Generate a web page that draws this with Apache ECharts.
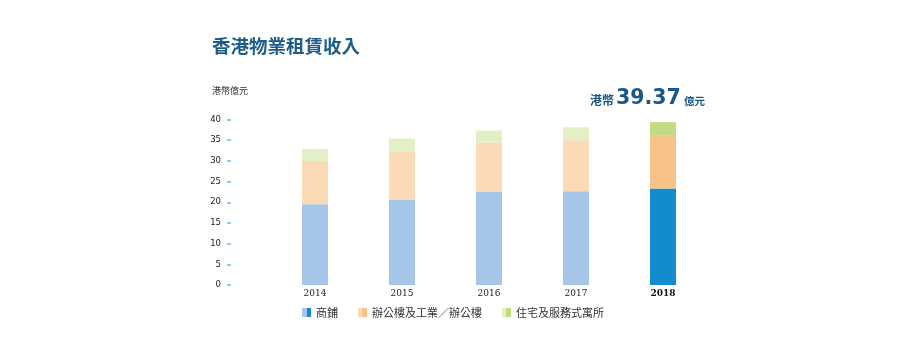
<!DOCTYPE html>
<html>
<head>
<meta charset="utf-8">
<script src="https://cdn.jsdelivr.net/npm/echarts@6/dist/echarts.min.js"></script>
<style>
  html, body { margin: 0; padding: 0; background: #fff; }
  #chart { width: 912px; height: 353px; }
</style>
</head>
<body>
<div id="chart"></div>
<script>
// 年份
const years = ['2014', '2015', '2016', '2017', '2018'];
// 各類物業租賃收入（港幣億元）
const shops = [19.5, 20.65, 22.5, 22.65, 23.3];
const offices = [10.45, 11.65, 11.95, 12.35, 12.75];
const residential = [2.9, 3.1, 2.9, 3.1, 3.32];
const seriesNames = ['商鋪', '辦公樓及工業／辦公樓', '住宅及服務式寓所'];
const yTicks = [0, 5, 10, 15, 20, 25, 30, 35, 40];
const totalText = '39.37';

const fontCJK = '"Noto Sans CJK TC", "Noto Sans", sans-serif';
const lightColors = ['#a5c6e9', '#fbdbb6', '#e2efc7'];
const darkColors = ['#138bce', '#f8c389', '#c2dc85'];
const labelBlue = '#1a5787';

// 最後一年用深色
const buildData = (arr, idx) => arr.map((v, i) => {
    if (i === arr.length - 1) {
        return { value: v, itemStyle: { color: darkColors[idx] } };
    }
    return v;
});

// 圖例：左淺右深
const legendIcon = (idx) => ({
    type: 'linear', x: 0, y: 0, x2: 1, y2: 0,
    colorStops: [
        { offset: 0, color: lightColors[idx] },
        { offset: 0.5, color: lightColors[idx] },
        { offset: 0.5, color: darkColors[idx] },
        { offset: 1, color: darkColors[idx] }
    ]
});

const myChart = echarts.init(document.getElementById('chart'));
myChart.setOption({
    animation: false,
    title: {
        text: '香港物業租賃收入',
        left: 207,
        top: 32,
        textStyle: {
            fontFamily: fontCJK,
            fontSize: 18.5,
            fontWeight: 'bold',
            color: '#1c5d8c'
        }
    },
    graphic: [
        {
            type: 'text',
            left: 212,
            top: 86,
            style: { text: '港幣億元', font: '9px ' + fontCJK, fill: '#333' }
        },
        // 總額標註
        {
            type: 'text',
            style: { x: 590, y: 106, text: '港幣', textVerticalAlign: 'bottom', font: 'bold 12px ' + fontCJK, fill: labelBlue }
        },
        {
            type: 'text',
            style: { x: 616, y: 109, text: totalText, textVerticalAlign: 'bottom', font: 'bold 20.5px "DejaVu Sans"', fill: labelBlue }
        },
        {
            type: 'text',
            style: { x: 684, y: 106, text: '億元', textVerticalAlign: 'bottom', font: 'bold 10.5px ' + fontCJK, fill: labelBlue }
        }
    ],
    legend: {
        left: 297,
        top: 302,
        itemWidth: 9,
        itemHeight: 9,
        itemGap: 20,
        icon: 'rect',
        textStyle: { fontFamily: fontCJK, fontSize: 11, color: '#333' },
        data: seriesNames.map((name, idx) => ({ name, itemStyle: { color: legendIcon(idx) } }))
    },
    grid: {
        left: 271.5,
        right: 205.5,
        top: 119.5,
        bottom: 68,
        containLabel: false
    },
    xAxis: {
        type: 'category',
        data: years,
        axisLine: { show: false },
        axisTick: { show: false },
        axisLabel: {
            margin: 4,
            fontFamily: 'DejaVu Serif',
            fontSize: 9,
            color: '#222',
            formatter: (v, i) => (i === years.length - 1 ? '{b|' + v + '}' : v),
            rich: { b: { fontFamily: 'DejaVu Serif', fontSize: 9, fontWeight: 'bold', color: '#111' } }
        }
    },
    yAxis: {
        type: 'value',
        min: yTicks[0],
        max: yTicks[yTicks.length - 1],
        interval: 5,
        offset: 40.5,
        splitLine: { show: false },
        axisLine: { show: false },
        axisTick: { show: true, length: 4, lineStyle: { color: '#5cc3ee', width: 1.5 } },
        axisLabel: {
            margin: 10,
            fontFamily: 'DejaVu Sans',
            fontSize: 8.5,
            color: '#222'
        }
    },
    series: [shops, offices, residential].map((arr, idx) => ({
        name: seriesNames[idx],
        type: 'bar',
        stack: 'total',
        barWidth: 26,
        itemStyle: { color: lightColors[idx] },
        emphasis: { disabled: true },
        data: buildData(arr, idx)
    }))
});
</script>
</body>
</html>
